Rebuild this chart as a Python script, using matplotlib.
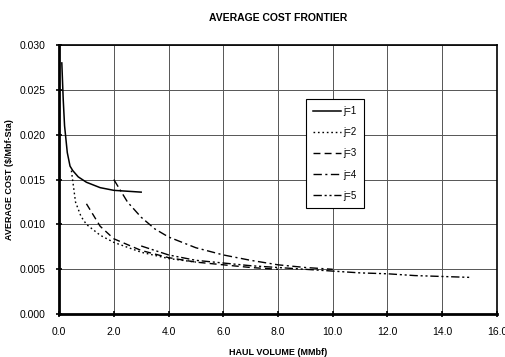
import matplotlib
matplotlib.use('Agg')
import matplotlib.pyplot as plt

# values
x1 = [0.1, 0.15, 0.2, 0.3, 0.4, 0.5, 0.7, 1.0, 1.5, 2.0, 2.5, 3.0]
y1 = [0.0280, 0.0240, 0.0210, 0.0180, 0.0165, 0.0160, 0.0153, 0.0147, 0.0141, 0.0138, 0.0137, 0.0136]

x2 = [0.45, 0.6, 0.8, 1.0, 1.5, 2.0, 3.0, 4.0, 5.0]
y2 = [0.0160, 0.0125, 0.0109, 0.0100, 0.0088, 0.0080, 0.0069, 0.0062, 0.0058]

x3 = [1.0, 1.5, 2.0, 3.0, 4.0, 5.0, 6.0, 7.0, 8.0]
y3 = [0.0123, 0.0098, 0.0084, 0.0071, 0.0063, 0.0058, 0.0055, 0.0052, 0.0050]

x4 = [2.0, 2.5, 3.0, 3.5, 4.0, 5.0, 6.0, 7.0, 8.0, 9.0, 10.0]
y4 = [0.0150, 0.0125, 0.0108, 0.0095, 0.0086, 0.0074, 0.0066, 0.0060, 0.0055, 0.0052, 0.0050]

x5 = [3.0, 4.0, 5.0, 6.0, 7.0, 8.0, 9.0, 10.0, 11.0, 12.0, 13.0, 14.0, 15.0]
y5 = [0.0076, 0.0066, 0.0060, 0.0057, 0.0054, 0.0052, 0.0050, 0.0048, 0.0046, 0.0045, 0.0043, 0.0042, 0.0041]

labels = ['j=1', 'j=2', 'j=3', 'j=4', 'j=5']
xticks = [0, 2, 4, 6, 8, 10, 12, 14, 16]
yticks = [0.000, 0.005, 0.010, 0.015, 0.020, 0.025, 0.030]

plt.rcParams['font.family'] = ['Liberation Sans', 'DejaVu Sans']

fig = plt.figure(figsize=(5.05, 3.57), dpi=100)
ax = fig.add_axes([0.117, 0.120, 0.867, 0.754])

ax.plot(x1, y1, color='black', lw=1.1, linestyle='-', label=labels[0])
ax.plot(x2, y2, color='black', lw=1.0, linestyle=(0, (1.2, 2.0)), label=labels[1])
ax.plot(x3, y3, color='black', lw=1.0, linestyle=(0, (5, 3)), label=labels[2])
ax.plot(x4, y4, color='black', lw=1.0, linestyle=(0, (6, 2.5, 1.5, 2.5)), label=labels[3])
ax.plot(x5, y5, color='black', lw=1.0, linestyle=(0, (6, 2, 1.5, 2, 1.5, 2)), label=labels[4])

ax.set_xlim(0, 16)
ax.set_ylim(0, 0.030)
ax.set_xticks(xticks)
ax.set_xticklabels(['%.1f' % v for v in xticks])
ax.set_yticks(yticks)
ax.set_yticklabels(['%.3f' % v for v in yticks])
ax.tick_params(labelsize=7.5, direction='inout', length=5, width=1.2, pad=7)
ax.grid(True, color='#555555', lw=0.7)
for s in ax.spines.values():
    s.set_linewidth(1.2)
ax.spines['left'].set_linewidth(2)
ax.spines['bottom'].set_linewidth(2)

ax.set_title('AVERAGE COST FRONTIER', fontsize=7.5, fontweight='bold', pad=17)
ax.set_xlabel('HAUL VOLUME (MMbf)', fontsize=6.5, fontweight='bold', labelpad=8)
ax.set_ylabel('AVERAGE COST (\\$/Mbf-Sta)', fontsize=6.5, fontweight='bold', labelpad=4)

leg = ax.legend(loc='upper left', bbox_to_anchor=(0.564, 0.80), fontsize=7,
                handlelength=2.8, labelspacing=1.15, handletextpad=0.3,
                borderpad=0.75, borderaxespad=0, fancybox=False, framealpha=1)
leg.get_frame().set_edgecolor('black')
leg.get_frame().set_linewidth(0.8)

plt.savefig('out.png', dpi=100)
